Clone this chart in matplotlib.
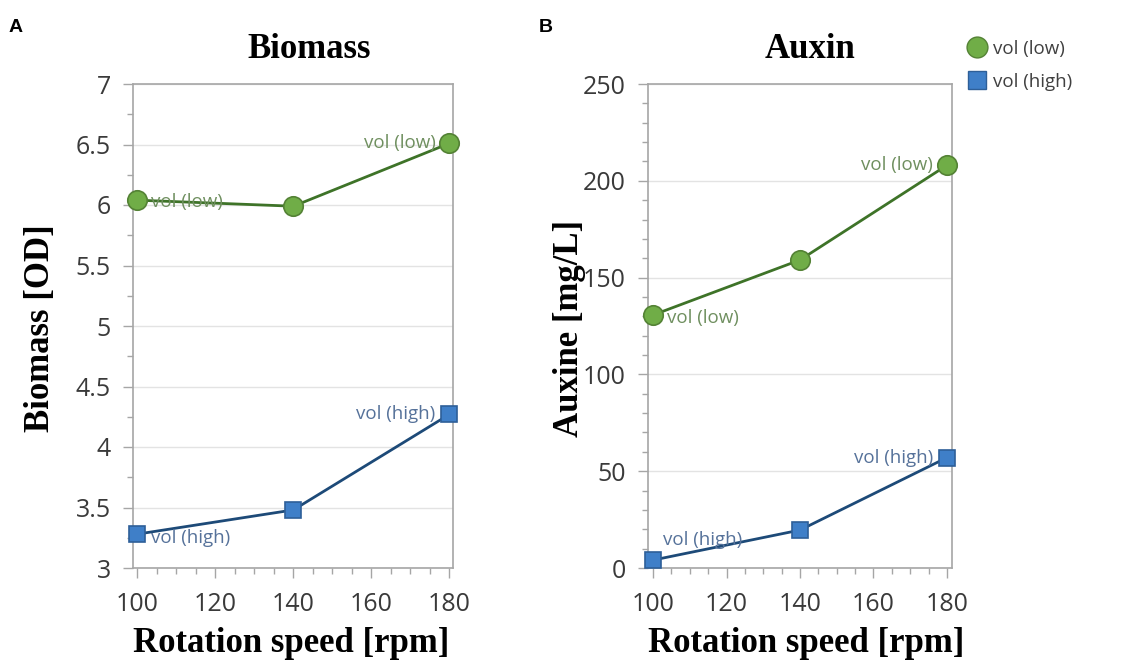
import matplotlib
matplotlib.use("Agg")
import matplotlib.pyplot as plt
from matplotlib.ticker import MultipleLocator
from matplotlib.lines import Line2D

# ---- data ----
rpm = [100, 140, 180]
biomass_low = [6.04, 5.99, 6.51]
biomass_high = [3.28, 3.48, 4.27]
auxin_low = [130.7, 159.1, 208.0]
auxin_high = [4.1, 19.6, 57.0]
series_names = ["vol (low)", "vol (high)"]
x_ticks = [100, 120, 140, 160, 180]
biomass_ticks = [3, 3.5, 4, 4.5, 5, 5.5, 6, 6.5, 7]
auxin_ticks = [0, 50, 100, 150, 200, 250]

# ---- style ----
GREEN_FILL = "#70ad47"
GREEN_EDGE = "#548235"
GREEN_LINE = "#3e7328"
GREEN_TXT = "#6f8f5f"
BLUE_FILL = "#3f7fc8"
BLUE_EDGE = "#2e5f98"
BLUE_LINE = "#1d4a78"
BLUE_TXT = "#56729a"
SPINE = "#a6a6a6"
TICKTXT = "#3a3a3a"
SANS = ["Open Sans", "DejaVu Sans"]
SERIF = ["Liberation Serif", "DejaVu Serif"]

W, H = 1133, 660
fig = plt.figure(figsize=(W / 100, H / 100), dpi=100)


def fx(px):
    return px / W


def fy(py):
    return 1 - py / H


def style_axes(ax, xlim, ylim, yticks, yminor):
    ax.set_xlim(*xlim)
    ax.set_ylim(*ylim)
    ax.set_xticks(x_ticks)
    ax.set_yticks(yticks)
    ax.xaxis.set_minor_locator(MultipleLocator(5))
    ax.yaxis.set_minor_locator(MultipleLocator(yminor))
    for s in ax.spines.values():
        s.set_color(SPINE)
        s.set_linewidth(1.2)
    ax.grid(axis="y", which="major", color="#e3e3e3", linewidth=1.0)
    ax.set_axisbelow(True)
    ax.tick_params(which="major", length=7, width=1.0, color=SPINE,
                   labelsize=18, labelcolor=TICKTXT)
    ax.tick_params(which="minor", length=4, width=1.0, color=SPINE)
    for lab in ax.get_xticklabels() + ax.get_yticklabels():
        lab.set_family(SANS)
    ax.tick_params(axis="x", which="major", pad=10)
    ax.tick_params(axis="y", which="major", pad=9)


def plot_series(ax, x, y, fill, edge, line, marker, ms):
    ax.plot(x, y, color=line, linewidth=2.0, zorder=3)
    ax.plot(x, y, linestyle="none", marker=marker, markersize=ms,
            markerfacecolor=fill, markeredgecolor=edge, markeredgewidth=1.2,
            zorder=4, clip_on=False)


def label(ax, x, y, text, color, dx, dy, ha, va):
    ax.annotate(text, (x, y), xytext=(dx, dy), textcoords="offset pixels",
                ha=ha, va=va, color=color, fontsize=13.5, family=SANS, zorder=5)


# ---- Panel A ----
axA = fig.add_axes([fx(133), fy(568), fx(453 - 133), (568 - 84) / H])
style_axes(axA, (98.9, 180.9), (3, 7), biomass_ticks, 0.25)
axA.set_yticklabels([f"{t:g}" for t in biomass_ticks])
plot_series(axA, rpm, biomass_low, GREEN_FILL, GREEN_EDGE, GREEN_LINE, "o", 14)
plot_series(axA, rpm, biomass_high, BLUE_FILL, BLUE_EDGE, BLUE_LINE, "s", 12)
label(axA, rpm[0], biomass_low[0], series_names[0], GREEN_TXT, 14, -2, "left", "center")
label(axA, rpm[-1], biomass_low[-1], series_names[0], GREEN_TXT, -14, 0, "right", "center")
label(axA, rpm[0], biomass_high[0], series_names[1], BLUE_TXT, 14, -4, "left", "center")
label(axA, rpm[-1], biomass_high[-1], series_names[1], BLUE_TXT, -14, 0, "right", "center")

# ---- Panel B ----
axB = fig.add_axes([fx(648), fy(568), fx(952 - 648), (568 - 84) / H])
style_axes(axB, (98.6, 181.4), (0, 250), auxin_ticks, 10)
plot_series(axB, rpm, auxin_low, GREEN_FILL, GREEN_EDGE, GREEN_LINE, "o", 14)
plot_series(axB, rpm, auxin_high, BLUE_FILL, BLUE_EDGE, BLUE_LINE, "s", 12)
label(axB, rpm[0], auxin_low[0], series_names[0], GREEN_TXT, 14, -3, "left", "center")
label(axB, rpm[-1], auxin_low[-1], series_names[0], GREEN_TXT, -14, 0, "right", "center")
label(axB, rpm[0], auxin_high[0], series_names[1], BLUE_TXT, 10, 20, "left", "center")
label(axB, rpm[-1], auxin_high[-1], series_names[1], BLUE_TXT, -14, 0, "right", "center")

# ---- titles and axis labels ----
fig.text(fx(309), fy(49), "Biomass", ha="center", va="center",
         fontsize=25, fontweight="bold", family=SERIF)
fig.text(fx(810), fy(49), "Auxin", ha="center", va="center",
         fontsize=25, fontweight="bold", family=SERIF)
fig.text(fx(291), fy(643), "Rotation speed [rpm]", ha="center", va="center",
         fontsize=25, fontweight="bold", family=SERIF)
fig.text(fx(806), fy(643), "Rotation speed [rpm]", ha="center", va="center",
         fontsize=25, fontweight="bold", family=SERIF)
fig.text(fx(41), fy(328), "Biomass [OD]", ha="center", va="center", rotation=90,
         fontsize=25, fontweight="bold", family=SERIF)
fig.text(fx(569), fy(328), "Auxine [mg/L]", ha="center", va="center", rotation=90,
         fontsize=25, fontweight="bold", family=SERIF)

# panel letters
fig.text(fx(16), fy(27), "A", ha="center", va="center", fontsize=14,
         fontweight="bold", family=["Liberation Sans", "DejaVu Sans"])
fig.text(fx(546), fy(27), "B", ha="center", va="center", fontsize=14,
         fontweight="bold", family=["Liberation Sans", "DejaVu Sans"])

# legend
handles = [
    Line2D([], [], linestyle="none", marker="o", markersize=15,
           markerfacecolor=GREEN_FILL, markeredgecolor=GREEN_EDGE),
    Line2D([], [], linestyle="none", marker="s", markersize=13,
           markerfacecolor=BLUE_FILL, markeredgecolor=BLUE_EDGE),
]
leg = fig.legend(handles, series_names, loc="upper left",
                 bbox_to_anchor=(fx(968), fy(40)), frameon=False,
                 handlelength=1.0, handletextpad=0.35, labelspacing=0.8,
                 borderaxespad=0, borderpad=0,
                 prop={"family": SANS, "size": 13.5})
for t in leg.get_texts():
    t.set_color("#404040")

fig.savefig("out.png", dpi=100)
